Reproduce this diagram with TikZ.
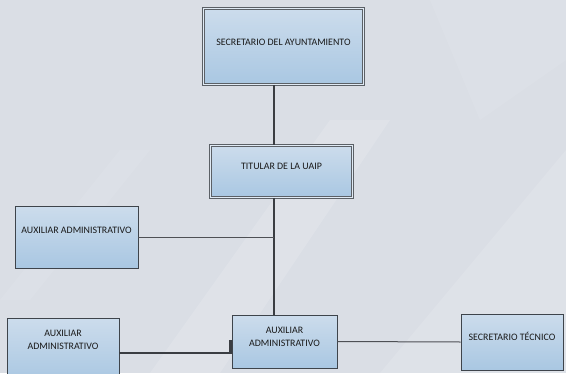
\documentclass[tikz,border=0pt]{standalone}
\usepackage{fontspec}
\setmainfont{Carlito}
\usetikzlibrary{shadows}
\definecolor{bgbase}{HTML}{DADEE5}
\definecolor{boxtop}{HTML}{CCDCEC}
\definecolor{boxbot}{HTML}{A9C7E2}
\definecolor{edge}{HTML}{3E444B}
\definecolor{wire}{HTML}{3A3D42}
\begin{document}
\begin{tikzpicture}[x=1pt,y=-1pt,
  box/.style={rectangle, draw=edge, line width=0.6pt, top color=boxtop, bottom color=boxbot,
    inner sep=0pt,
    drop shadow={shadow xshift=1.2pt, shadow yshift=-1.2pt, opacity=0.35}},
  headbox/.style={box, double=boxtop!60!white, double distance=1.6pt, draw=edge!85!white},
  lbl/.style={font=\fontsize{9.9}{12.8}\selectfont, text=black!90, align=center, inner sep=0pt},
  trunk/.style={draw=wire, line width=2.6pt},
  branch/.style={draw=wire!90!white, line width=1pt}]
  % page and background
  \useasboundingbox (0,0) rectangle (566,373);
  \fill[bgbase] (0,0) rectangle (566,373);
  \fill[white, opacity=0.14] (150,373) -- (330,120) -- (390,120) -- (220,373) -- cycle;
  \fill[white, opacity=0.12] (380,373) -- (566,150) -- (566,373) -- cycle;
  \fill[white, opacity=0.08] (0,300) -- (120,150) -- (150,150) -- (30,300) -- cycle;
  \fill[white, opacity=0.08] (430,0) -- (566,0) -- (566,60) -- (480,120) -- cycle;

  % vertical axis of the chart
  \coordinate (spine) at (274,0);

  % boxes
  \node[headbox, minimum width=160pt, minimum height=76pt,
        label={[lbl, name=sa-l, yshift=4.5pt]center:SECRETARIO DEL AYUNTAMIENTO}] (sa) at (283.5,46.5) {};
  \node[headbox, minimum width=142pt, minimum height=52pt,
        label={[lbl, name=ti-l, yshift=5.5pt]center:TITULAR DE LA UAIP}] (ti) at (281.5,171.5) {};
  \node[box, minimum width=123pt, minimum height=62pt,
        label={[lbl, name=a1-l, yshift=7pt]center:AUXILIAR ADMINISTRATIVO}] (a1) at (76.5,237) {};
  \node[box, minimum width=112pt, minimum height=64pt,
        label={[lbl, name=a2-l, yshift=10pt]center:AUXILIAR\\ADMINISTRATIVO}] (a2) at (63,350) {};
  \node[box, minimum width=105pt, minimum height=53pt,
        label={[lbl, name=a3-l, yshift=5pt]center:AUXILIAR\\ADMINISTRATIVO}] (a3) at (284.5,341.5) {};
  \node[box, minimum width=102pt, minimum height=56pt,
        label={[lbl, name=st-l, yshift=6pt]center:SECRETARIO TÉCNICO}] (st) at (512,342) {};

  % connectors
  \draw[trunk] (spine |- sa.south) -- (spine |- ti.north);
  \draw[trunk] (spine |- ti.south) -- (spine |- a3.north);
  \draw[branch] (a1.east) -- (a1.east -| spine);
  \draw[trunk, line width=2.2pt] ([yshift=-3pt]a2.east) -| ([xshift=-1.2pt]a3.west) -- (a3.west);
  \draw[branch] (a3.east) -- (st.west);
\end{tikzpicture}
\end{document}
